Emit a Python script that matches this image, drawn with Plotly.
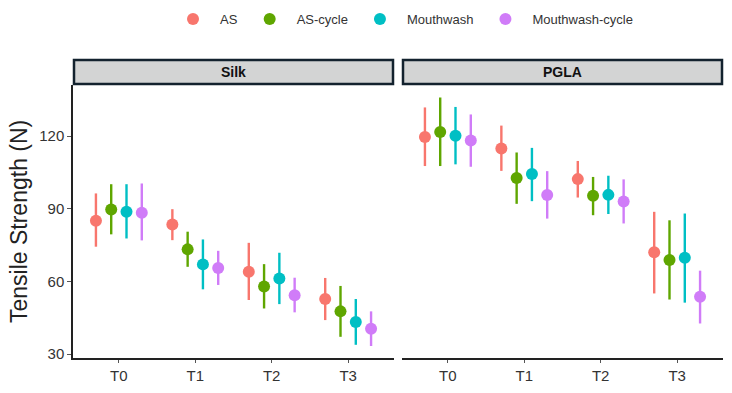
import plotly.graph_objects as go

times = ["T0", "T1", "T2", "T3"]
series = ["AS", "AS-cycle", "Mouthwash", "Mouthwash-cycle"]
colors = ["#F8766D", "#5FA600", "#00BFC4", "#D07CF8"]

# Silk: mean, lower, upper per series (T0..T3)
silk_mean = {
    "AS": [85.0, 83.5, 64.0, 52.7],
    "AS-cycle": [89.7, 73.2, 57.9, 47.6],
    "Mouthwash": [88.7, 67.0, 61.2, 43.2],
    "Mouthwash-cycle": [88.3, 65.5, 54.3, 40.4],
}
silk_low = {
    "AS": [74.3, 77.0, 52.3, 44.0],
    "AS-cycle": [79.4, 66.0, 48.8, 37.1],
    "Mouthwash": [77.7, 56.7, 50.6, 33.8],
    "Mouthwash-cycle": [76.9, 58.5, 47.2, 33.3],
}
silk_high = {
    "AS": [96.3, 89.8, 75.9, 61.4],
    "AS-cycle": [100.1, 80.5, 67.1, 58.1],
    "Mouthwash": [100.1, 77.3, 71.8, 52.7],
    "Mouthwash-cycle": [100.4, 72.6, 61.5, 47.6],
}
# PGLA
pgla_mean = {
    "AS": [119.6, 114.8, 102.2, 72.0],
    "AS-cycle": [121.7, 102.7, 95.3, 68.8],
    "Mouthwash": [120.1, 104.3, 95.7, 69.7],
    "Mouthwash-cycle": [118.1, 95.6, 93.0, 53.6],
}
pgla_low = {
    "AS": [107.6, 105.6, 94.6, 55.0],
    "AS-cycle": [107.6, 92.0, 87.3, 52.5],
    "Mouthwash": [108.3, 93.1, 87.8, 51.2],
    "Mouthwash-cycle": [107.3, 85.9, 83.9, 42.6],
}
pgla_high = {
    "AS": [131.8, 124.3, 109.7, 88.7],
    "AS-cycle": [135.9, 113.2, 103.1, 85.2],
    "Mouthwash": [132.0, 115.1, 103.6, 88.0],
    "Mouthwash-cycle": [128.9, 105.5, 102.1, 64.4],
}
facets = ["Silk", "PGLA"]
y_ticks = [30, 60, 90, 120]

W, H = 732, 393
FONT = "Liberation Sans, Arial, sans-serif"

fig = go.Figure()
dodge = [-0.3, -0.1, 0.1, 0.3]
panels = [(silk_mean, silk_low, silk_high, "x", "y"),
          (pgla_mean, pgla_low, pgla_high, "x2", "y2")]
for p, (m, lo, hi, xa, ya) in enumerate(panels):
    for i, s in enumerate(series):
        xs = [t + dodge[i] for t in range(len(times))]
        fig.add_trace(go.Scatter(
            x=xs, y=m[s], xaxis=xa, yaxis=ya, mode="markers",
            name=s, legendgroup=s, showlegend=(p == 0),
            marker=dict(color=colors[i], size=12, line=dict(width=0)),
            error_y=dict(type="data", symmetric=False,
                         array=[h - v for h, v in zip(hi[s], m[s])],
                         arrayminus=[v - l for v, l in zip(m[s], lo[s])],
                         color=colors[i], thickness=2.4, width=0),
        ))

def px_x(v):
    return v / W

def px_y(v):
    return 1 - v / H

xd1 = [px_x(73), px_x(394)]
xd2 = [px_x(402), px_x(723)]
yd = [px_y(358), px_y(85)]
yr = [28.35, 141.06]
xr = [-0.6, 3.6]

xaxis_common = dict(range=xr, tickmode="array", tickvals=list(range(len(times))),
                    ticktext=times, showgrid=False, zeroline=False, showline=True,
                    linecolor="#222222", linewidth=1.5, ticks="outside", ticklen=3,
                    tickcolor="#555555", tickwidth=1,
                    tickfont=dict(family=FONT, size=15, color="#333333"),
                    automargin=False)

fig.update_layout(
    width=W, height=H,
    margin=dict(l=0, r=0, t=0, b=0),
    paper_bgcolor="white", plot_bgcolor="white",
    font=dict(family=FONT, color="#333333"),
    xaxis=dict(domain=xd1, anchor="y", **xaxis_common),
    xaxis2=dict(domain=xd2, anchor="y2", **xaxis_common),
    yaxis=dict(domain=yd, range=yr, anchor="x", tickmode="array", tickvals=y_ticks,
               showgrid=False, zeroline=False, showline=True, linecolor="#222222",
               linewidth=1.5, ticks="outside", ticklen=4, tickcolor="#555555",
               tickfont=dict(family=FONT, size=15, color="#333333"), automargin=False),
    yaxis2=dict(domain=yd, range=yr, anchor="x2", matches="y", showticklabels=False,
                showgrid=False, zeroline=False, showline=False, ticks=""),
    legend=dict(orientation="h", x=px_x(166), xanchor="left", y=px_y(4), yanchor="top",
                font=dict(family=FONT, size=13, color="#333333"),
                bgcolor="rgba(0,0,0,0)", itemsizing="constant", itemwidth=44),
    showlegend=True,
)

# facet strips
for name, xd in zip(facets, [xd1, xd2]):
    fig.add_shape(type="rect", xref="paper", yref="paper",
                  x0=xd[0] + 1 / W, x1=xd[1] - 1 / W, y0=px_y(84), y1=px_y(60),
                  fillcolor="#D3D4D4", line=dict(color="#13222E", width=2.5), layer="above")
    fig.add_annotation(x=(xd[0] + xd[1]) / 2, y=px_y(72), xref="paper", yref="paper",
                       xanchor="center", yanchor="middle",
                       text="<b>%s</b>" % name, showarrow=False,
                       font=dict(family=FONT, size=14, color="#111111"))

fig.add_annotation(x=px_x(19), y=px_y(222), xref="paper", yref="paper",
                   xanchor="center", yanchor="middle",
                   text="Tensile Strength (N)", textangle=-90, showarrow=False,
                   font=dict(family=FONT, size=23, color="#222222"))

fig.write_html("out.html")
